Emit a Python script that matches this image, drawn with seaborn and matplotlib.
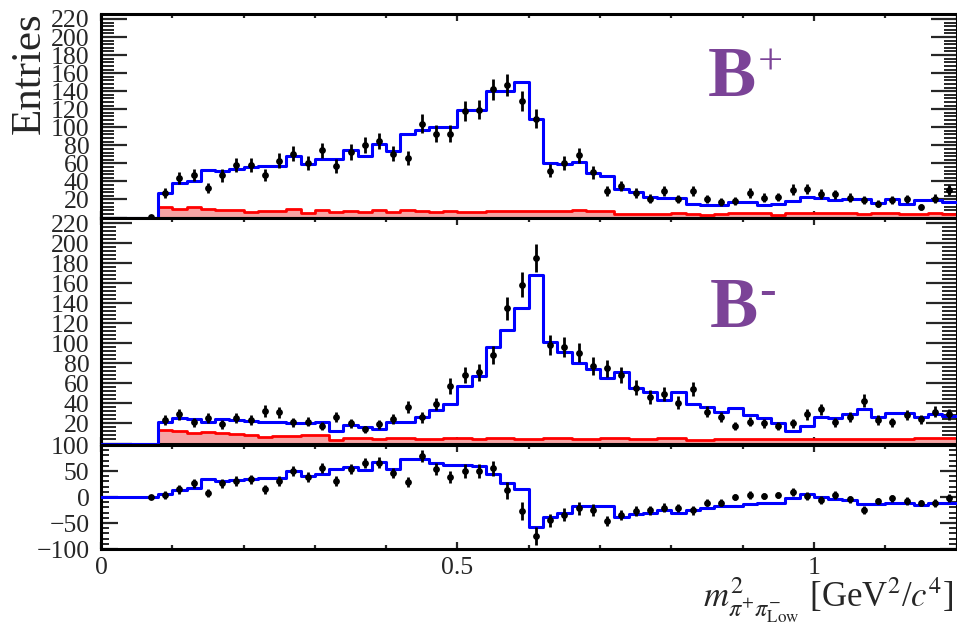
import numpy as np
import matplotlib
matplotlib.use("Agg")
import matplotlib.pyplot as plt
import seaborn as sns
from matplotlib.ticker import MultipleLocator, FixedLocator, FixedFormatter

# ---------------- data (bin width 0.02 GeV^2/c^4, 0 .. 1.2) ----------------
bin_edges = [round(v, 3) for v in np.linspace(0.0, 1.2, 61)]
bin_centers = [round(v + 0.01, 3) for v in bin_edges[:-1]]
nan = np.nan

# B+ : data, total fit (blue), background (red)
bplus_data = [nan, nan, nan, 1,
              27, 43.7, 47, 33, 46.7, 57.8, 57.8, 47, 63, 70.7,
              60.7, 74.4, 57.4, 72.6, 80, 84.8, 70.7, 66, 104, 93,
              93, 117.8, 119.6, 141.9, 146.7, 129, 109.6, 52, 60, 69,
              50, 29, 35, 27, 21, 29, 20, 29, 20, 17,
              18, 27, 22, 22.6, 31, 32, 26, 25.5, 22, 19,
              15, 19, 20, 11.5, 21, 30]
bplus_fit = [0, 0, 0, 0,
             27, 38.5, 41, 53, 51, 54, 56, 57, 57, 68,
             59.6, 65, 65, 74.4, 68, 81, 73.7, 93, 96.7, 100,
             100, 119, 119, 140, 140, 150, 109, 60, 59, 62,
             49.6, 46, 32, 28, 22.6, 22, 22, 15, 14.4, 14.4,
             17, 17, 14.4, 15, 18, 23, 22, 19, 21, 20,
             16, 21, 15, 19, 19, 17]
bplus_bkg = [0, 0, 0, 0,
             12, 9.6, 11.5, 9, 8.5, 7.8, 6, 6.7, 7, 9.6,
             5.2, 7.8, 5.6, 6.7, 5.6, 8.1, 6.3, 8, 7.4, 6.3,
             6.7, 6, 6, 7, 7.4, 6.7, 7, 7, 7.5, 8.3,
             7, 7, 3.5, 4, 3.5, 4, 4.5, 4, 3, 3.5,
             5, 4.5, 4.5, 3, 5.5, 5.5, 5, 4.5, 4.5, 4,
             5.5, 5, 4, 4, 4.5, 4]

# B- : data, total fit (blue), background (red)
bminus_data = [nan, nan, nan, nan,
               23.3, 29.3, 21, 25.7, 19, 25.7, 23.3, 32.3, 31, 21,
               21.7, 17.3, 26.7, 20, 14, 19, 24.3, 36, 26, 39.3,
               57.3, 68.3, 71, 88.3, 135, 158.3, 185, 98.3, 96, 90.7,
               77.3, 75, 68.3, 55.7, 46.7, 49, 40.7, 54.3, 31.7, 26.7,
               17.7, 21.7, 20, 17.7, 20, 29, 34, 21, 26.7, 42.7,
               23.3, 21, 28.3, 24, 31.7, 29]
bminus_fit = [0, 0, 0, 0,
              21, 25.7, 24.3, 21, 24, 23.3, 22.7, 21.7, 21.3, 20.7,
              20, 21, 12.3, 18.3, 16, 14.3, 21, 21, 26.7, 33.3,
              39.3, 57.7, 67.7, 96.7, 113, 135, 167.7, 101, 91.7, 80,
              74.3, 65, 71.7, 55, 51.7, 43.3, 51, 39.3, 36, 31,
              35, 28.3, 25, 20, 12.3, 17.7, 26.7, 25, 29, 34.3,
              26.7, 30.7, 30.7, 26.7, 29, 27.3]
bminus_bkg = [0, 0, 0, 0,
              13.3, 12.3, 10, 11, 10, 9.3, 8.3, 6.7, 7.7, 7.7,
              8.3, 8.3, 3.3, 5, 5.7, 4.3, 5, 5.7, 4.3, 4.3,
              5, 5.7, 4.3, 5.7, 5, 4.3, 4.3, 5, 5, 4.5,
              4.5, 5, 5.5, 4, 4, 5.5, 5.5, 3.5, 3.5, 4,
              4, 4, 4.5, 4, 4, 4, 4.5, 4.5, 4, 4,
              4, 4, 4, 5, 5.5, 5.5]

# difference B+ - B-
diff_data = [nan, nan, nan, 0,
             3.8, 14.7, 26.3, 8.3, 26.3, 30.8, 34, 14.7, 30.8, 50,
             38.5, 56.4, 30.8, 53.2, 64.7, 66, 46.8, 28.8, 78.8, 53.2,
             38.5, 50, 50, 55, 12.8, -27, -75, -45, -34.6, -21.8,
             -25.6, -46, -35, -27, -25.6, -20.5, -21.8, -25.6, -11, -11,
             0, 3.8, 2, 3.8, 10, 2, -6.4, 3.8, -4.5, -25.6,
             -7.7, -2.6, -7.7, -11, -12, -1]
diff_fit = [0, 0, 0, 0,
            5, 12.8, 18, 34, 30.8, 32, 34, 37, 37, 50,
            40, 45, 54.5, 57.7, 52, 67, 54.5, 72.4, 72.4, 66,
            61, 61, 59.6, 45, 27.6, 14.7, -58, -39, -31, -17,
            -17, -17, -38.5, -32, -30, -25.6, -31, -25.6, -21.8, -17.3,
            -17.3, -12.8, -11, -11, -1.3, 6.4, 0, -4.5, -5.8, -12.8,
            -14, -11, -11, -15.4, -11, -11]

x_tick_values = [0, 0.5, 1]
x_tick_labels = ["0", "0.5", "1"]
entries_ticks = [0, 20, 40, 60, 80, 100, 120, 140, 160, 180, 200, 220]
entries_labels = [""] + [str(v) for v in entries_ticks[1:]]
diff_ticks = [-100, -50, 0, 50, 100]
diff_labels = ["\u2212100", "\u221250", "0", "50", "100"]

# ---------------- style ----------------
sns.set_theme(style="ticks")
plt.rcParams["font.family"] = ["Liberation Serif", "DejaVu Serif"]
plt.rcParams["mathtext.fontset"] = "stix"
plt.rcParams["axes.linewidth"] = 2.2
plt.rcParams["axes.edgecolor"] = "black"

PURPLE = "#7b4397"
W_PX, H_PX = 957, 631
fig = plt.figure(figsize=(W_PX / 100, H_PX / 100), dpi=100)
fig.patch.set_facecolor("white")


def px_rect(x0, y0, x1, y1):
    return [x0 / W_PX, 1 - y1 / H_PX, (x1 - x0) / W_PX, (y1 - y0) / H_PX]


ax1 = fig.add_axes(px_rect(101, 14, 956.5, 217.5))
ax2 = fig.add_axes(px_rect(101, 218.5, 956.5, 443.5))
ax3 = fig.add_axes(px_rect(101, 445, 956.5, 549))

c = np.asarray(bin_centers, float)


def draw_hist(ax, vals, color, fill=False, lw=2.2):
    w = np.asarray(vals, float)
    if fill:
        sns.histplot(x=c, weights=w, bins=bin_edges,
                     element="step", fill=True, facecolor="#f6a4a4",
                     edgecolor=color, linewidth=lw, ax=ax, zorder=2)
    else:
        sns.histplot(x=c, weights=w, bins=bin_edges,
                     element="step", fill=False, color=color, linewidth=lw,
                     ax=ax, zorder=3)


def draw_points(ax, vals, errs):
    y = np.asarray(vals, float)
    m = ~np.isnan(y)
    ax.errorbar(c[m], y[m], yerr=np.asarray(errs)[m], fmt="none",
                ecolor="black", elinewidth=2.0, capsize=0, zorder=4)
    sns.scatterplot(x=c[m], y=y[m], color="black", s=24, linewidth=0,
                    ax=ax, zorder=5)


bp = np.nan_to_num(np.asarray(bplus_data, float))
bm = np.nan_to_num(np.asarray(bminus_data, float))

draw_hist(ax1, bplus_bkg, "#ff0000", fill=True, lw=2.0)
draw_hist(ax1, bplus_fit, "#0000ff")
draw_points(ax1, bplus_data, np.sqrt(np.abs(bp)))

draw_hist(ax2, bminus_bkg, "#ff0000", fill=True, lw=2.0)
draw_hist(ax2, bminus_fit, "#0000ff")
draw_points(ax2, bminus_data, np.sqrt(np.abs(bm)))

draw_hist(ax3, diff_fit, "#0000ff")
draw_points(ax3, diff_data, np.sqrt(np.abs(bp) + np.abs(bm)))

ax1.set_ylim(0, 225.5)
ax2.set_ylim(0, 224.5)
ax3.set_ylim(-100, 100)

tick_lengths = {ax1: (19, 9.5), ax2: (22, 11), ax3: (12, 6)}
for ax in (ax1, ax2, ax3):
    ax.set_xlim(0, 1.2)
    ax.set_xlabel("")
    ax.set_ylabel("")
    ax.set_facecolor("white")
    ax.xaxis.set_major_locator(FixedLocator(x_tick_values))
    ax.xaxis.set_minor_locator(MultipleLocator(0.1))
    ymaj, ymin = tick_lengths[ax]
    ax.tick_params(axis="x", which="major", direction="in", length=5,
                   width=1.6, top=True, bottom=True)
    ax.tick_params(axis="x", which="minor", direction="in", length=2.8,
                   width=1.6, top=True, bottom=True)
    ax.tick_params(axis="y", which="major", direction="in", length=ymaj,
                   width=1.6, left=True, right=True, labelsize=18.5, pad=8.3)
    ax.tick_params(axis="y", which="minor", direction="in", length=ymin,
                   width=1.4, left=True, right=True)
    for s in ax.spines.values():
        s.set_linewidth(2.2)
        s.set_color("black")

for ax in (ax1, ax2):
    ax.yaxis.set_major_locator(FixedLocator(entries_ticks))
    ax.yaxis.set_major_formatter(FixedFormatter(entries_labels))
    ax.yaxis.set_minor_locator(MultipleLocator(4))
    ax.tick_params(axis="x", labelbottom=False)

ax3.yaxis.set_major_locator(FixedLocator(diff_ticks))
ax3.yaxis.set_major_formatter(FixedFormatter(diff_labels))
ax3.yaxis.set_minor_locator(MultipleLocator(10))
ax3.xaxis.set_major_formatter(FixedFormatter(x_tick_labels))
ax3.tick_params(axis="x", labelsize=18.5, pad=6)

# labels
fig.text(30 / W_PX, 1 - 12 / H_PX, "Entries", rotation=90, fontsize=31,
         ha="center", va="top")
fig.text(953 / W_PX, 1 - 607 / H_PX,
         r"$m^{2}_{\pi^{+}\pi^{-}_{\rm Low}}$ [GeV$^{2}$/$c^{4}$]",
         fontsize=25, ha="right", va="baseline")

# B+ / B- annotations
fig.text(708 / W_PX, 1 - 96 / H_PX, "B", fontsize=52, fontweight="bold",
         color=PURPLE, ha="left", va="baseline")
fig.text(770 / W_PX, 1 - 75 / H_PX, "+", fontsize=32, color=PURPLE,
         ha="center", va="baseline")
fig.text(710 / W_PX, 1 - 327 / H_PX, "B", fontsize=52, fontweight="bold",
         color=PURPLE, ha="left", va="baseline")
fig.text(767 / W_PX, 1 - 305 / H_PX, "-", fontsize=36, color=PURPLE,
         ha="center", va="baseline")

fig.savefig("out.png", dpi=100, facecolor="white")
